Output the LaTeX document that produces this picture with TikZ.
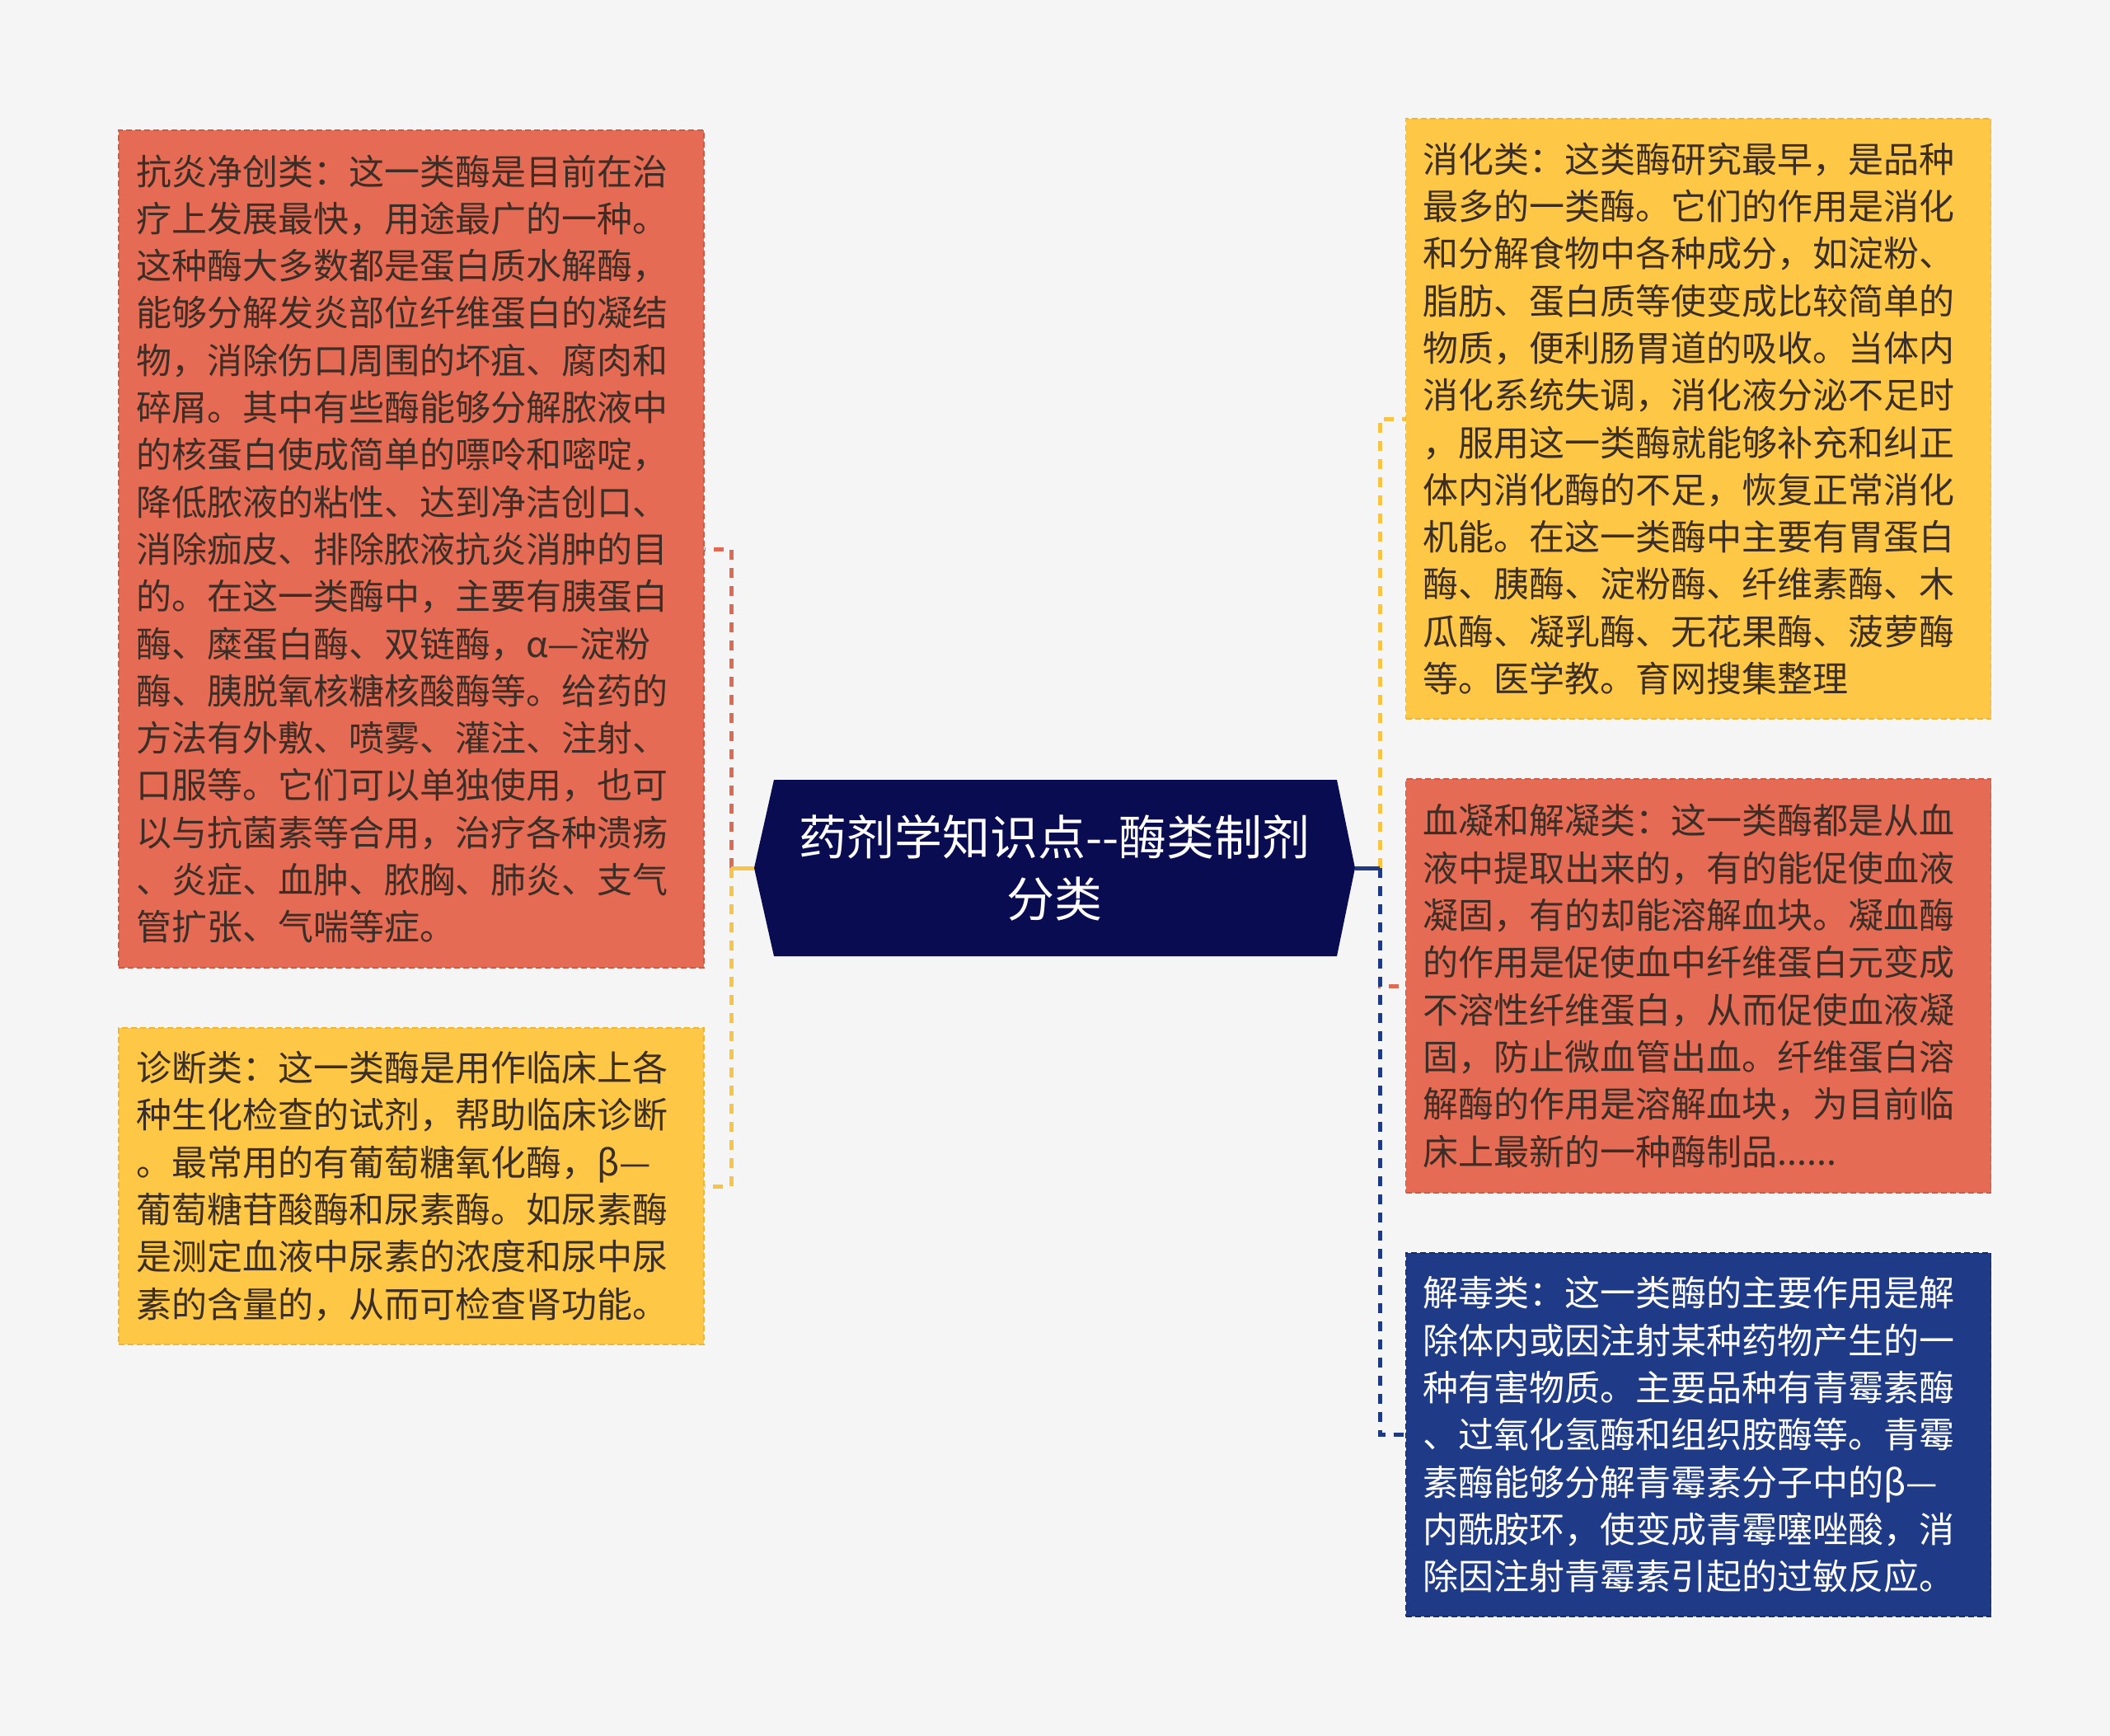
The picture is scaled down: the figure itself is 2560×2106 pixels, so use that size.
\documentclass[tikz,border=0pt]{standalone}
\usepackage{fontspec}
\setmainfont{Noto Sans CJK SC}
\definecolor{bg}{HTML}{F5F5F5}
\definecolor{cred}{HTML}{E56B55}
\definecolor{credd}{HTML}{CF5A45}
\definecolor{cyel}{HTML}{FEC846}
\definecolor{cyeld}{HTML}{EDB634}
\definecolor{cblue}{HTML}{1F3B87}
\definecolor{cblued}{HTML}{152C6E}
\definecolor{cnavy}{HTML}{0A0C52}
\definecolor{ctxt}{HTML}{3B2E27}
\definecolor{lred}{HTML}{DE6A52}
\definecolor{lyel}{HTML}{F7C444}
\definecolor{lblue}{HTML}{1F3A85}
\begin{document}
\begin{tikzpicture}[x=1pt,y=-1pt,
  box/.style={rectangle, minimum width=710pt, text width=668pt, inner xsep=21pt, inner ysep=0pt,
    align=left, font=\fontsize{43}{57.3}\selectfont, dash pattern=on 7pt off 4pt, line width=1.5pt},
  redbox/.style={box, fill=cred, draw=credd, text=ctxt},
  yelbox/.style={box, fill=cyel, draw=cyeld, text=ctxt},
  bluebox/.style={box, fill=cblue, draw=cblued, text=white},
  conn/.style={line width=5pt, dash pattern=on 12pt off 10pt},
  stub/.style={line width=5pt}
]
\useasboundingbox[fill=bg] (0,0) rectangle (2560,2106);

\node[rectangle, minimum width=729pt, minimum height=214pt, inner sep=0pt, align=center,
  text=white, font=\fontsize{58}{75}\selectfont,
  path picture={\fill[cnavy] (path picture bounding box.west) -- ([xshift=24pt]path picture bounding box.north west)
    -- ([xshift=-22pt]path picture bounding box.north east) -- (path picture bounding box.east)
    -- ([xshift=-22pt]path picture bounding box.south east) -- ([xshift=24pt]path picture bounding box.south west) -- cycle;}]
  (root) at (1279.5,1053) {药剂学知识点-{}-酶类制剂\\分类};

\node[redbox, minimum height=1016pt] (n1) at (499,666) {抗炎净创类：这一类酶是目前在治\\疗上发展最快，用途最广的一种。\\这种酶大多数都是蛋白质水解酶，\\能够分解发炎部位纤维蛋白的凝结\\物，消除伤口周围的坏疽、腐肉和\\碎屑。其中有些酶能够分解脓液中\\的核蛋白使成简单的嘌呤和嘧啶，\\降低脓液的粘性、达到净洁创口、\\消除痂皮、排除脓液抗炎消肿的目\\的。在这一类酶中，主要有胰蛋白\\酶、糜蛋白酶、双链酶，α—淀粉\\酶、胰脱氧核糖核酸酶等。给药的\\方法有外敷、喷雾、灌注、注射、\\口服等。它们可以单独使用，也可\\以与抗菌素等合用，治疗各种溃疡\\、炎症、血肿、脓胸、肺炎、支气\\管扩张、气喘等症。};

\node[yelbox, minimum height=384pt] (n2) at (499,1439) {诊断类：这一类酶是用作临床上各\\种生化检查的试剂，帮助临床诊断\\。最常用的有葡萄糖氧化酶，β—\\葡萄糖苷酸酶和尿素酶。如尿素酶\\是测定血液中尿素的浓度和尿中尿\\素的含量的，从而可检查肾功能。};

\node[yelbox, minimum height=728pt] (n3) at (2060.5,508) {消化类：这类酶研究最早，是品种\\最多的一类酶。它们的作用是消化\\和分解食物中各种成分，如淀粉、\\脂肪、蛋白质等使变成比较简单的\\物质，便利肠胃道的吸收。当体内\\消化系统失调，消化液分泌不足时\\，服用这一类酶就能够补充和纠正\\体内消化酶的不足，恢复正常消化\\机能。在这一类酶中主要有胃蛋白\\酶、胰酶、淀粉酶、纤维素酶、木\\瓜酶、凝乳酶、无花果酶、菠萝酶\\等。医学教。育网搜集整理};

\node[redbox, minimum height=502pt] (n4) at (2060.5,1196) {血凝和解凝类：这一类酶都是从血\\液中提取出来的，有的能促使血液\\凝固，有的却能溶解血块。凝血酶\\的作用是促使血中纤维蛋白元变成\\不溶性纤维蛋白，从而促使血液凝\\固，防止微血管出血。纤维蛋白溶\\解酶的作用是溶解血块，为目前临\\床上最新的一种酶制品......};

\node[bluebox, minimum height=441pt] (n5) at (2060.5,1740.5) {解毒类：这一类酶的主要作用是解\\除体内或因注射某种药物产生的一\\种有害物质。主要品种有青霉素酶\\、过氧化氢酶和组织胺酶等。青霉\\素酶能够分解青霉素分子中的β—\\内酰胺环，使变成青霉噻唑酸，消\\除因注射青霉素引起的过敏反应。};

\coordinate (lj) at (887,1053);
\coordinate (rj) at (1674,1053);

\draw[conn, lred] (lj) |- (n1.east);
\draw[conn, lyel] (lj) |- (n2.east);
\draw[stub, lyel] (root.west) -- (lj);

\draw[conn, lyel] (rj) |- (n3.west);
\draw[conn, lred] (rj) |- (n4.west);
\draw[conn, lblue] (rj) |- (n5.west);
\draw[stub, lblue] (root.east) -- (rj);
\end{tikzpicture}
\end{document}
